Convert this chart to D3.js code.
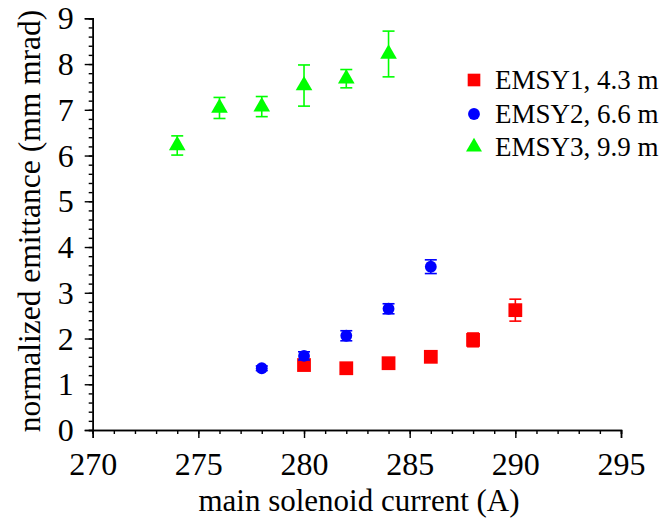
<!DOCTYPE html>
<html><head><meta charset="utf-8">
<script src="https://cdn.jsdelivr.net/npm/d3@7"></script>
<style>body{margin:0;background:#fff} svg text{font-family:"Liberation Serif","Times New Roman",Times,"DejaVu Serif",serif;}</style>
</head><body>
<svg id="c" width="662" height="525"></svg>
<script>
const xTicks = [270, 275, 280, 285, 290, 295];
const yTicks = [0,1,2,3,4,5,6,7,8,9];

const emsy1X = [280, 282, 284, 286, 288, 290];
const emsy1Y = [1.42, 1.35, 1.46, 1.60, 1.97, 2.62];
const emsy1E = [0.08, 0.08, 0.07, 0.06, 0.15, 0.24];

const emsy2X = [278, 280, 282, 284, 286];
const emsy2Y = [1.35, 1.62, 2.06, 2.65, 3.57];
const emsy2E = [0.05, 0.09, 0.11, 0.11, 0.15];

const emsy3X = [274, 276, 278, 280, 282, 284];
const emsy3Y = [6.22, 7.04, 7.07, 7.53, 7.68, 8.22];
const emsy3E = [0.21, 0.23, 0.22, 0.45, 0.2, 0.5];

const seriesNames = ["EMSY1, 4.3 m", "EMSY2, 6.6 m", "EMSY3, 9.9 m"];
const colors = ["#ff0000", "#0000ff", "#00ff00"];
const symbols = [d3.symbolSquare, d3.symbolCircle, d3.symbolTriangle];

const svg = d3.select("#c");
const x = d3.scaleLinear().domain([270, 295]).range([92.7, 621]);
const y = d3.scaleLinear().domain([0, 9]).range([430, 18.3]);

// axes
const xAxis = svg.append("g").attr("transform", `translate(0,${y(0)})`);
xAxis.call(d3.axisBottom(x).tickValues(d3.range(270, 295.5, 1)).tickSize(4).tickFormat(""));
xAxis.append("g").call(d3.axisBottom(x).tickValues(xTicks).tickSize(8).tickFormat(d3.format("d")));
const yAxis = svg.append("g").attr("transform", `translate(${x(270)},0)`);
yAxis.call(d3.axisLeft(y).tickValues(d3.range(0, 9.01, 0.2)).tickSize(4).tickFormat(""));
yAxis.append("g").call(d3.axisLeft(y).tickValues(yTicks).tickSize(8).tickFormat(d3.format("d")));
svg.selectAll("g").attr("font-family", null);
svg.selectAll(".domain").attr("stroke", "#000").attr("stroke-width", 1.5);
svg.selectAll(".tick line").attr("stroke", "#000").attr("stroke-width", 1.4);
svg.selectAll(".tick text").attr("font-size", 32).attr("fill", "#000");
xAxis.selectAll(".tick text").attr("dy", "0").attr("y", 45);
yAxis.selectAll(".tick text").attr("x", -19).attr("dy", "0.33em");

// titles
svg.append("text").attr("x", 359).attr("y", 511).attr("text-anchor", "middle")
  .attr("font-size", 31).text("main solenoid current (A)");
svg.append("text").attr("transform", `translate(40,${221}) rotate(-90)`).attr("text-anchor", "middle")
  .attr("font-size", 31.5).text("normalized emittance (mm mrad)");

const sets = [[emsy1X, emsy1Y, emsy1E], [emsy2X, emsy2Y, emsy2E], [emsy3X, emsy3Y, emsy3E]];
const sizes = [190, 110, 120];
sets.forEach(([xs, ys, es], i) => {
  const g = svg.append("g");
  const data = xs.map((v, j) => ({x: v, y: ys[j], e: es[j]}));
  const eb = g.selectAll(".eb").data(data).enter().append("g").attr("stroke", colors[i]).attr("stroke-width", 1.6);
  eb.append("line").attr("x1", d => x(d.x)).attr("x2", d => x(d.x)).attr("y1", d => y(d.y - d.e)).attr("y2", d => y(d.y + d.e));
  eb.append("line").attr("x1", d => x(d.x) - 6).attr("x2", d => x(d.x) + 6).attr("y1", d => y(d.y - d.e)).attr("y2", d => y(d.y - d.e));
  eb.append("line").attr("x1", d => x(d.x) - 6).attr("x2", d => x(d.x) + 6).attr("y1", d => y(d.y + d.e)).attr("y2", d => y(d.y + d.e));
  g.selectAll(".m").data(data).enter().append("path")
    .attr("d", d3.symbol().type(symbols[i]).size(sizes[i]))
    .attr("transform", d => `translate(${x(d.x)},${y(d.y)})`)
    .attr("fill", colors[i]);
});

// legend
const legY = [80, 114, 147];
const legSizes = [160, 110, 110];
seriesNames.forEach((n, i) => {
  svg.append("path").attr("d", d3.symbol().type(symbols[i]).size(legSizes[i]))
    .attr("transform", `translate(474,${legY[i]})`).attr("fill", colors[i]);
  svg.append("text").attr("x", 495).attr("y", legY[i]).attr("dy", "0.33em")
    .attr("font-size", 27).text(n);
});
</script>
</body></html>
